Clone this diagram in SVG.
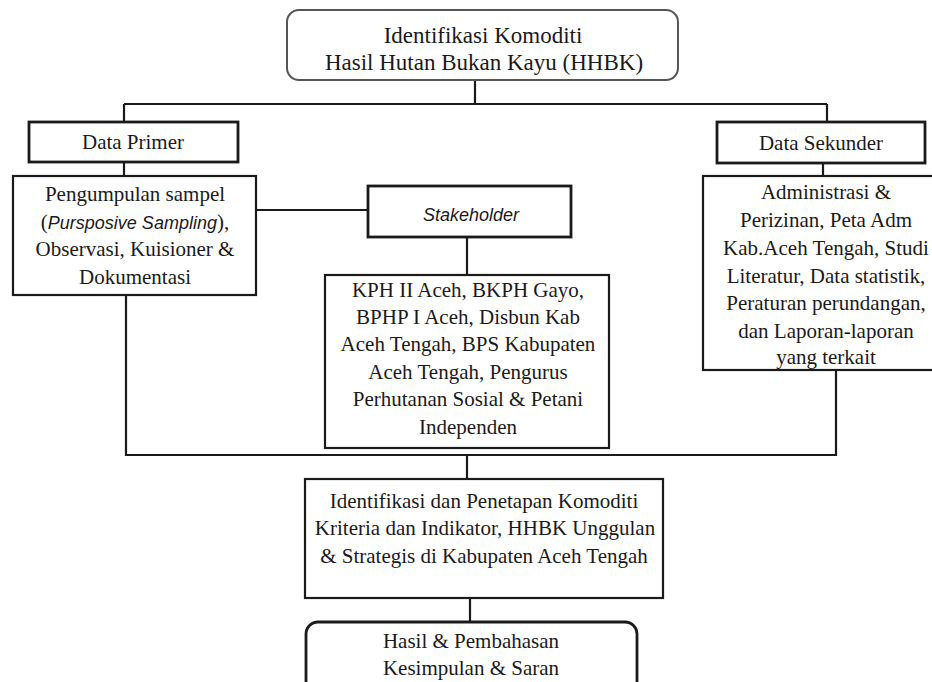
<svg xmlns="http://www.w3.org/2000/svg" width="932" height="682" viewBox="0 0 932 682">
<style>
  .box{fill:#fff;stroke:#1a1a1a;stroke-width:2.2}
  .thick{stroke-width:2.8}
  .soft{stroke:#555;stroke-width:2}
  .t{font-family:"Liberation Serif","Times New Roman",serif;font-size:21px;fill:#1a1a1a;text-anchor:middle}
  .big{font-size:23px}
  .it{font-family:"Liberation Sans",Arial,sans-serif;font-style:italic;font-size:18px}
  .c{fill:none;stroke:#1a1a1a;stroke-width:2.2}
</style>
<rect width="932" height="682" fill="#fff"/>
<g id="connectors">
  <path class="c" d="M475,80 V104"/>
  <path class="c" d="M124,104 H827"/>
  <path class="c" d="M124,104 V122"/>
  <path class="c" d="M827,104 V122"/>
  <path class="c" d="M124,162 V176"/>
  <path class="c" d="M823,163 V176"/>
  <path class="c" d="M256,210 H368"/>
  <path class="c" d="M467,237 V275"/>
  <path class="c" d="M126,295 V455 H836 V370"/>
  <path class="c" d="M467,455 V479"/>
  <path class="c" d="M470,598 V622"/>
</g>
<g id="identifikasi">
  <rect class="box soft" x="287" y="10" width="391" height="70" rx="12"/>
  <text class="t big" x="483" y="43">Identifikasi Komoditi</text>
  <text class="t big" x="484" y="70">Hasil Hutan Bukan Kayu (HHBK)</text>
</g>
<g id="data-primer">
  <rect class="box thick" x="29" y="122" width="209" height="40"/>
  <text class="t" x="133" y="149">Data Primer</text>
</g>
<g id="data-sekunder">
  <rect class="box thick" x="717" y="122" width="208" height="41"/>
  <text class="t" x="821" y="150">Data Sekunder</text>
</g>
<g id="pengumpulan">
  <rect class="box" x="13" y="176" width="243" height="119"/>
  <text class="t" x="135" y="201">Pengumpulan sampel</text>
  <text class="t" x="135" y="228.5">(<tspan class="it">Pursposive Sampling</tspan>),</text>
  <text class="t" x="135" y="256">Observasi, Kuisioner &amp;</text>
  <text class="t" x="135" y="283.5">Dokumentasi</text>
</g>
<g id="stakeholder">
  <rect class="box thick" x="368" y="186" width="203" height="51"/>
  <text class="t it" x="471" y="221">Stakeholder</text>
</g>
<g id="kph">
  <rect class="box" x="325" y="275" width="284" height="173"/>
  <text class="t" x="468" y="297">KPH II Aceh, BKPH Gayo,</text>
  <text class="t" x="468" y="324">BPHP I Aceh, Disbun Kab</text>
  <text class="t" x="468" y="351">Aceh Tengah, BPS Kabupaten</text>
  <text class="t" x="468" y="379">Aceh Tengah, Pengurus</text>
  <text class="t" x="468" y="406">Perhutanan Sosial &amp; Petani</text>
  <text class="t" x="468" y="434">Independen</text>
</g>
<g id="sekunder-detail">
  <rect class="box" x="703" y="176" width="248" height="194"/>
  <text class="t" x="826" y="199">Administrasi &amp;</text>
  <text class="t" x="826" y="227">Perizinan, Peta Adm</text>
  <text class="t" x="826" y="255">Kab.Aceh Tengah, Studi</text>
  <text class="t" x="826" y="283">Literatur, Data statistik,</text>
  <text class="t" x="826" y="310">Peraturan perundangan,</text>
  <text class="t" x="826" y="338">dan Laporan-laporan</text>
  <text class="t" x="826" y="364">yang terkait</text>
</g>
<g id="penetapan">
  <rect class="box" x="305" y="479" width="358" height="119"/>
  <text class="t" x="484" y="508">Identifikasi dan Penetapan Komoditi</text>
  <text class="t" x="485" y="535">Kriteria dan Indikator, HHBK Unggulan</text>
  <text class="t" x="484" y="563">&amp; Strategis di Kabupaten Aceh Tengah</text>
</g>
<g id="hasil">
  <rect class="box thick" x="306" y="622" width="331" height="72" rx="12"/>
  <text class="t" x="471" y="648">Hasil &amp; Pembahasan</text>
  <text class="t" x="471" y="675">Kesimpulan &amp; Saran</text>
</g>
</svg>
